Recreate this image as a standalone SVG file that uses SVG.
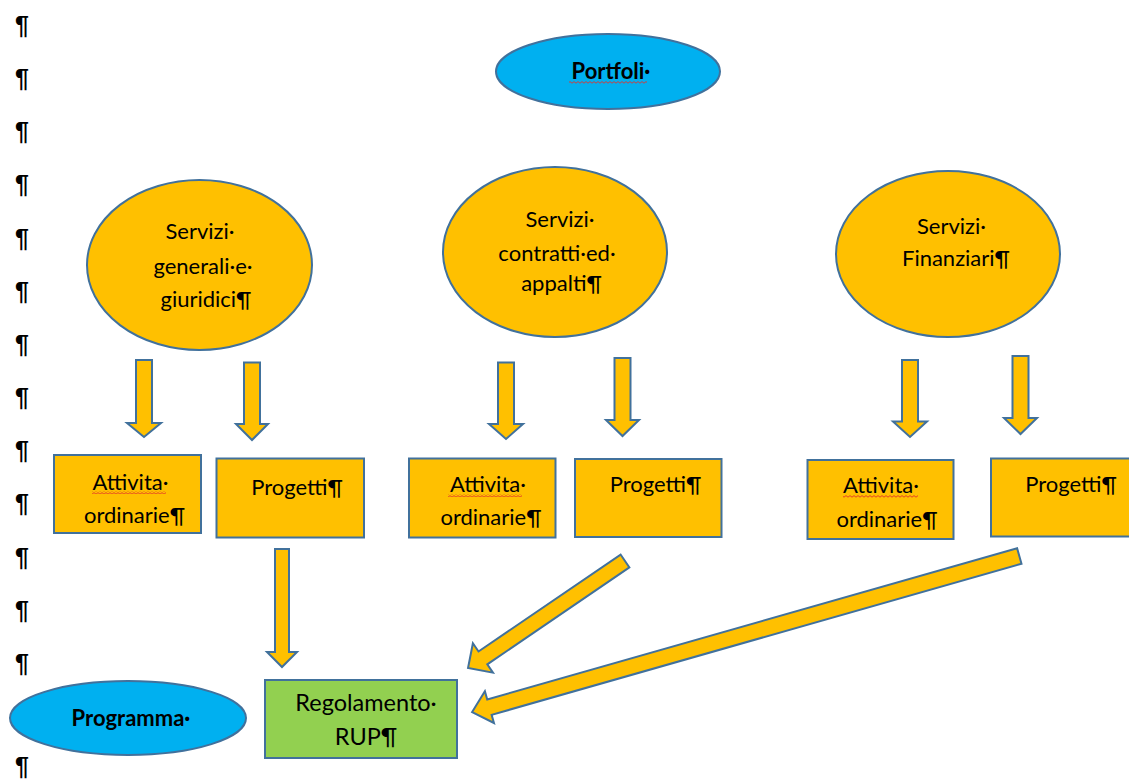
<svg xmlns="http://www.w3.org/2000/svg" width="1129" height="780" viewBox="0 0 1129 780">
<style>
.pil{font-family:"Liberation Sans",Arial,sans-serif;font-weight:bold;font-size:25px;fill:#000}
.t{font-family:Lato,"Open Sans",sans-serif;font-size:22px;fill:#000;text-anchor:middle}
.b{font-weight:bold}
.big{font-size:23.5px}
.or{fill:#FFC000;stroke:#41719C;stroke-width:2}
.bl{fill:#00B0F0;stroke:#41719C;stroke-width:2}
.gr{fill:#92D050;stroke:#41719C;stroke-width:2}
.sq{fill:url(#wave)}
</style>
<defs>
<pattern id="wave" width="4" height="3" patternUnits="userSpaceOnUse">
<path d="M0,2.2 L2,0.6 L4,2.2" fill="none" stroke="#E0302A" stroke-width="0.9"/>
</pattern>
</defs>
<rect width="1129" height="780" fill="#fff"/>
<g id="pilcrows">
<text class="pil" x="15" y="34">¶</text>
<text class="pil" x="15" y="87">¶</text>
<text class="pil" x="15" y="140">¶</text>
<text class="pil" x="15" y="193">¶</text>
<text class="pil" x="15" y="247">¶</text>
<text class="pil" x="15" y="300">¶</text>
<text class="pil" x="15" y="353">¶</text>
<text class="pil" x="15" y="406">¶</text>
<text class="pil" x="15" y="459">¶</text>
<text class="pil" x="15" y="512">¶</text>
<text class="pil" x="15" y="566">¶</text>
<text class="pil" x="15" y="619">¶</text>
<text class="pil" x="15" y="672">¶</text>
<text class="pil" x="15" y="775">¶</text>
</g>
<g id="connectors">
<polygon class="or" points="136,360 152,360 152,423 161,423 144,437 127,423 136,423"/>
<polygon class="or" points="244,362.5 260,362.5 260,424 268,424 252,440 236,424 244,424"/>
<polygon class="or" points="498,362.5 514,362.5 514,424 523,424 506,439 489,424 498,424"/>
<polygon class="or" points="614.5,358 630.5,358 630.5,420 639,420 622.5,436 606,420 614.5,420"/>
<polygon class="or" points="902,360 918,360 918,421.5 927,421.5 910,437 893,421.5 902,421.5"/>
<polygon class="or" points="1012.5,356 1028.5,356 1028.5,418 1037,418 1020.5,434 1004,418 1012.5,418"/>
<polygon class="or" points="275,549 289,549 289,652 297,652 282,667 267,652 275,652"/>
<polygon class="or" transform="translate(625,561) rotate(145.7)" points="0,-7.8 172,-7.8 172,-17.8 190,0 172,17.8 172,7.8 0,7.8"/>
<polygon class="or" transform="translate(1019.3,556) rotate(164.08)" points="0,-8 551,-8 551,-16.5 569,0 551,16.5 551,8 0,8"/>
</g>
<g id="portfoli">
<ellipse class="bl" cx="608" cy="71.5" rx="112" ry="37.5"/>
<text class="t b" x="611" y="79">Portfoli·</text>
<rect class="sq" x="569" y="81" width="78" height="3"/>
</g>
<g id="servizi-generali">
<ellipse class="or" cx="199.5" cy="265" rx="112.5" ry="85"/>
<text class="t" x="200" y="239">Servizi·</text>
<text class="t" x="203" y="274">generali·e·</text>
<text class="t" x="206" y="307">giuridici¶</text>
</g>
<g id="servizi-contratti">
<ellipse class="or" cx="555" cy="252" rx="112" ry="85"/>
<text class="t" x="560" y="227">Servizi·</text>
<text class="t" x="557" y="261">contratti·ed·</text>
<text class="t" x="561.5" y="291">appalti¶</text>
</g>
<g id="servizi-finanziari">
<ellipse class="or" cx="948" cy="254" rx="112" ry="83"/>
<text class="t" x="951.5" y="234">Servizi·</text>
<text class="t" x="956" y="266">Finanziari¶</text>
</g>
<g id="attivita-1">
<rect class="or" x="54" y="455" width="147" height="78"/>
<text class="t" x="130.5" y="490">Attivita·</text>
<rect class="sq" x="92" y="491" width="74" height="3"/>
<text class="t" x="134.5" y="523">ordinarie¶</text>
</g>
<g id="progetti-1">
<rect class="or" x="216.5" y="458.5" width="147.5" height="79"/>
<text class="t" x="297" y="495">Progetti¶</text>
</g>
<g id="attivita-2">
<rect class="or" x="409" y="458.5" width="146.5" height="79"/>
<text class="t" x="488" y="491.5">Attivita·</text>
<rect class="sq" x="448" y="494" width="74" height="3"/>
<text class="t" x="491" y="525">ordinarie¶</text>
</g>
<g id="progetti-2">
<rect class="or" x="575" y="459" width="146.5" height="78"/>
<text class="t" x="655.5" y="491.5">Progetti¶</text>
</g>
<g id="attivita-3">
<rect class="or" x="807.5" y="460" width="146" height="79"/>
<text class="t" x="881" y="493">Attivita·</text>
<rect class="sq" x="843" y="495" width="75" height="3"/>
<text class="t" x="887" y="526.5">ordinarie¶</text>
</g>
<g id="progetti-3">
<rect class="or" x="991" y="458.5" width="147" height="78"/>
<text class="t" x="1071" y="491.5">Progetti¶</text>
</g>
<g id="programma">
<ellipse class="bl" cx="128" cy="718" rx="118" ry="37"/>
<text class="t b" x="131" y="726">Programma·</text>
</g>
<g id="regolamento">
<rect class="gr" x="265" y="680" width="192" height="78"/>
<text class="t big" x="366" y="711">Regolamento·</text>
<text class="t big" x="366" y="745">RUP¶</text>
</g>
</svg>
